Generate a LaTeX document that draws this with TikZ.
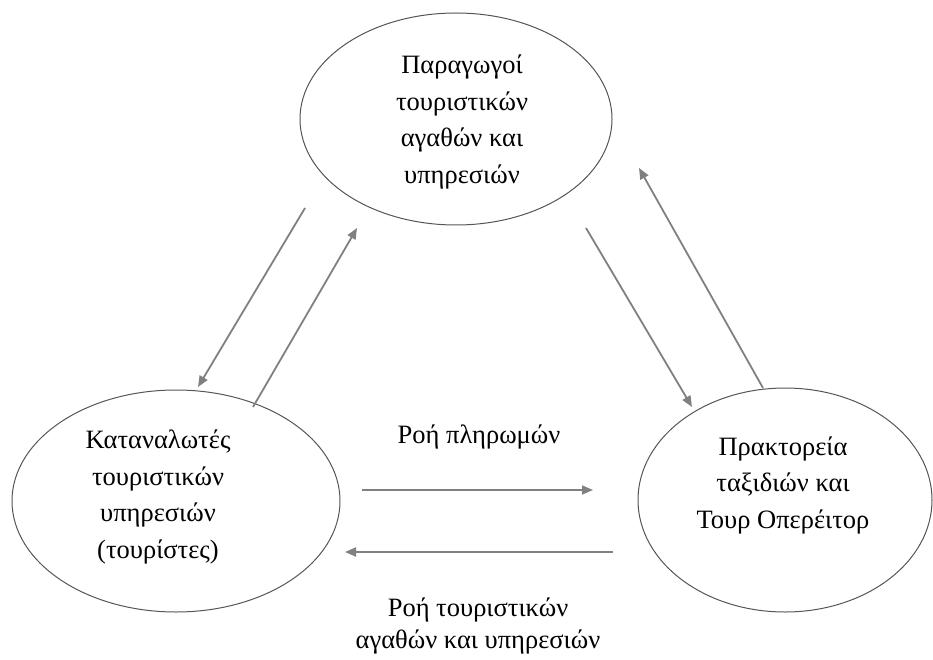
\documentclass[tikz,border=0pt]{standalone}
\usepackage{fontspec}
\setmainfont{Liberation Serif}
\usetikzlibrary{shapes.geometric,arrows.meta}
\definecolor{arrgray}{HTML}{808080}
\definecolor{elline}{HTML}{555555}
\begin{document}
\begin{tikzpicture}[x=1pt,y=-1pt,
  ell/.style={draw=elline, line width=1pt, ellipse, inner sep=0pt},
  txt/.style={align=center, font=\fontsize{26.5}{36.5}\selectfont, text=black},
  flow/.style={draw=arrgray, line width=1.8pt, -{Triangle[length=11pt,width=9pt]}}]
\useasboundingbox (0,0) rectangle (933,660);
% ellipses
\node[ell, minimum width=312pt, minimum height=212pt] (P) at (456,119) {};
\node[ell, minimum width=328pt, minimum height=222pt] (K) at (176,501) {};
\node[ell, minimum width=294pt, minimum height=224pt] (T) at (785,500) {};
% texts
\node[txt] (Pt) at (462,122) {Παραγωγοί\\τουριστικών\\αγαθών και\\υπηρεσιών};
\node[txt] (Kt) at (158,497) {Καταναλωτές\\τουριστικών\\υπηρεσιών\\(τουρίστες)};
\node[txt] (Tt) at (783,485) {Πρακτορεία\\ταξιδιών και\\Τουρ Οπερέιτορ};
\node[txt] (L1) at (479,437) {Ροή πληρωμών};
\node[txt, font=\fontsize{26.5}{31.5}\selectfont] (L2) at (478,626) {Ροή τουριστικών\\αγαθών και υπηρεσιών};
% arrow end points
\coordinate (a1s) at (305,208); \coordinate (a1e) at (198,387);
\coordinate (a2s) at (253,407); \coordinate (a2e) at (357,228);
\coordinate (a3s) at (586,228); \coordinate (a3e) at (692,407);
\coordinate (a4s) at (763,388); \coordinate (a4e) at (639,168);
\coordinate (a5s) at (362,490); \coordinate (a5e) at (593,490);
\coordinate (a6s) at (613,552); \coordinate (a6e) at (345,552);
\draw[flow] (a1s) -- (a1e);
\draw[flow] (a2s) -- (a2e);
\draw[flow] (a3s) -- (a3e);
\draw[flow] (a4s) -- (a4e);
\draw[flow] (a5s) -- (a5e);
\draw[flow] (a6s) -- (a6e);
\end{tikzpicture}
\end{document}
